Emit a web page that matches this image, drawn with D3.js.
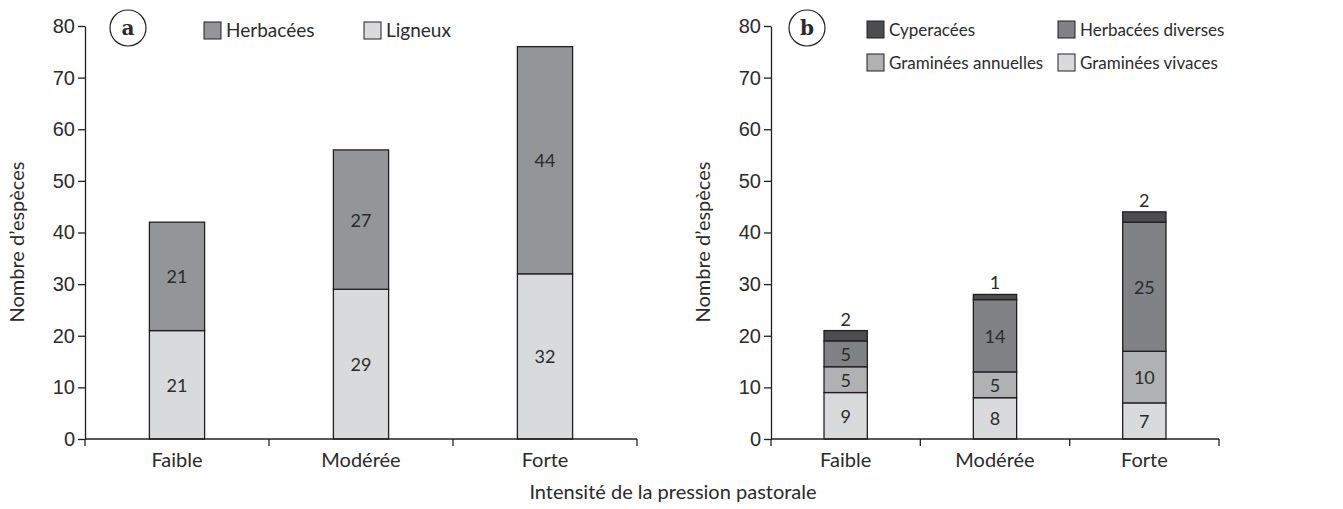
<!DOCTYPE html>
<html>
<head>
<meta charset="utf-8">
<script src="https://cdn.jsdelivr.net/npm/d3@7"></script>
<style>
  body { margin: 0; background: #fff; }
  svg { font-family: Lato, "Open Sans", sans-serif; fill: #2b2b2b; }
  .axis path, .axis line { stroke: #231f20; stroke-width: 1.3; }
  .axis text { font-size: 20px; fill: #2b2b2b; }
</style>
</head>
<body>
<svg id="chart" width="1343" height="509"></svg>
<script>
// data
const categories = ['Faible', 'Modérée', 'Forte'];
const yTicks = [0, 10, 20, 30, 40, 50, 60, 70, 80];

// panel a
const ligneux = [21, 29, 32];
const herbacees = [21, 27, 44];

// panel b
const graminesVivaces = [9, 8, 7];
const graminesAnnuelles = [5, 5, 10];
const herbaceesDiverses = [5, 14, 25];
const cyperacees = [2, 1, 2];

const seriesA = [
    { name: 'Ligneux', values: ligneux, color: '#d9dadc' },
    { name: 'Herbacées', values: herbacees, color: '#939598' }
];
const seriesB = [
    { name: 'Graminées vivaces', values: graminesVivaces, color: '#d9dadc' },
    { name: 'Graminées annuelles', values: graminesAnnuelles, color: '#b0b1b3' },
    { name: 'Herbacées diverses', values: herbaceesDiverses, color: '#818285' },
    { name: 'Cyperacées', values: cyperacees, color: '#4d4d4f', labelAbove: true }
];

const svg = d3.select('#chart');

function drawPanel(opts) {
    let g = svg.append('g');

    let x = d3.scaleBand().domain(categories).range([opts.x0, opts.x1]).paddingInner(opts.pad).paddingOuter(opts.pad / 2);
    let xTicks = d3.scaleBand().domain(categories).range([opts.x0, opts.x1]);
    let y = d3.scaleLinear().domain([0, 80]).range([439, 26]);

    // stacked bars
    let rows = categories.map((c, i) => {
        let r = { cat: c };
        opts.series.forEach(s => r[s.name] = s.values[i]);
        return r;
    });
    let stack = d3.stack().keys(opts.series.map(s => s.name))(rows);

    stack.forEach((layer, li) => {
        let s = opts.series[li];
        let lg = g.append('g');
        lg.selectAll('rect')
            .data(layer)
            .join('rect')
            .attr('x', d => x(d.data.cat))
            .attr('width', x.bandwidth())
            .attr('y', d => y(d[1]))
            .attr('height', d => y(d[0]) - y(d[1]))
            .attr('fill', s.color)
            .attr('stroke', '#231f20')
            .attr('stroke-width', 1.3);

        lg.selectAll('text')
            .data(layer)
            .join('text')
            .attr('x', d => x(d.data.cat) + x.bandwidth() / 2)
            .attr('y', d => s.labelAbove ? y(d[1]) - 5 : (y(d[0]) + y(d[1])) / 2 + 7)
            .attr('text-anchor', 'middle')
            .style('font-size', '18px')
            .text(d => d[1] - d[0]);
    });

    // y axis
    g.append('g')
        .attr('class', 'axis')
        .attr('transform', `translate(${opts.x0},0)`)
        .call(d3.axisLeft(y).tickValues(yTicks).tickSize(7).tickSizeOuter(0).tickPadding(3));

    // x axis: ticks at band boundaries
    let xa = g.append('g').attr('class', 'axis');
    xa.append('line')
        .attr('x1', opts.x0).attr('x2', opts.x1)
        .attr('y1', y(0)).attr('y2', y(0));
    let bounds = [opts.x0].concat(categories.map(c => xTicks(c) + xTicks.bandwidth()));
    xa.selectAll('line.tk')
        .data(bounds)
        .join('line')
        .attr('class', 'tk')
        .attr('x1', d => d).attr('x2', d => d)
        .attr('y1', y(0)).attr('y2', y(0) + 7);
    xa.selectAll('text')
        .data(categories)
        .join('text')
        .attr('x', d => x(d) + x.bandwidth() / 2)
        .attr('y', y(0) + 28)
        .attr('text-anchor', 'middle')
        .text(d => d);

    // y title
    g.append('text')
        .attr('transform', `translate(${opts.x0 - 61},${242}) rotate(-90)`)
        .attr('text-anchor', 'middle')
        .style('font-size', '20px')
        .text('Nombre d’espèces');

    // panel letter
    g.append('circle')
        .attr('cx', opts.x0 + opts.letterDx).attr('cy', 28).attr('r', 18)
        .attr('fill', 'none').attr('stroke', '#231f20').attr('stroke-width', 1.2);
    g.append('text')
        .attr('x', opts.x0 + opts.letterDx).attr('y', 35)
        .attr('text-anchor', 'middle')
        .style('font-size', '20px').style('font-weight', 'bold')
        .style('font-family', '"DejaVu Serif", serif')
        .text(opts.letter);

    // legend
    let leg = g.selectAll('g.leg')
        .data(opts.legend)
        .join('g')
        .attr('class', 'leg')
        .attr('transform', d => `translate(${d.x},${d.y})`);
    leg.append('rect')
        .attr('x', 0).attr('y', -8).attr('width', 17).attr('height', 17)
        .attr('fill', d => d.color)
        .attr('stroke', '#231f20').attr('stroke-width', 1);
    leg.append('text')
        .attr('x', 22).attr('y', 7)
        .style('font-size', opts.legendSize)
        .text(d => d.name);
}

drawPanel({
    x0: 85, x1: 637, pad: 0.7,
    series: seriesA,
    letter: 'a', letterDx: 43,
    legendSize: '19px',
    legend: [
        { name: 'Herbacées', color: seriesA[1].color, x: 204, y: 30 },
        { name: 'Ligneux', color: seriesA[0].color, x: 364, y: 30 }
    ]
});

drawPanel({
    x0: 771, x1: 1219, pad: 0.71,
    series: seriesB,
    letter: 'b', letterDx: 36,
    legendSize: '17px',
    legend: [
        { name: 'Cyperacées', color: seriesB[3].color, x: 867, y: 29 },
        { name: 'Herbacées diverses', color: seriesB[2].color, x: 1058, y: 29 },
        { name: 'Graminées annuelles', color: seriesB[1].color, x: 867, y: 62 },
        { name: 'Graminées vivaces', color: seriesB[0].color, x: 1058, y: 62 }
    ]
});

svg.append('text')
    .attr('x', 673).attr('y', 499)
    .attr('text-anchor', 'middle')
    .style('font-size', '20px')
    .text('Intensité de la pression pastorale');
</script>
</body>
</html>
